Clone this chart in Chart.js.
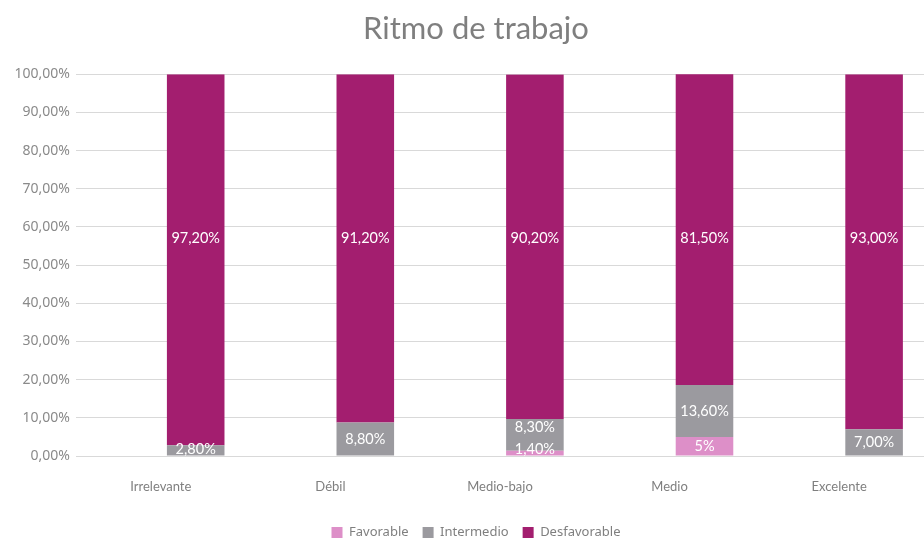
<!DOCTYPE html>
<html lang="es">
<head>
<meta charset="utf-8">
<title>Ritmo de trabajo</title>
<script src="https://cdn.jsdelivr.net/npm/chart.js@4.4.1/dist/chart.umd.min.js"></script>
<style>
  html, body { margin: 0; padding: 0; background: #fff; overflow: hidden; }
</style>
</head>
<body>
<canvas id="myChart" width="924" height="541"></canvas>
<script>
// Datos (porcentajes por categoría)
var categorias = ['Irrelevante', 'Débil', 'Medio-bajo', 'Medio', 'Excelente'];
var favorable = [0, 0, 1.4, 5, 0];
var intermedio = [2.8, 8.8, 8.3, 13.6, 7.0];
var desfavorable = [97.2, 91.2, 90.2, 81.5, 93.0];
var serieVacia = [null, null, null, null, null];

function formato(v, serie) {
    if (serie === 'Favorable' && Number.isInteger(v)) return v + '%';
    return v.toFixed(2).replace('.', ',') + '%';
}

// Etiquetas blancas dentro de las barras
var etiquetas = {
    id: 'etiquetas',
    afterLayout: function (chart) {
        // deja que los rótulos del eje Y usen el margen izquierdo
        chart.scales.y.left = 0;
    },
    afterDatasetsDraw: function (chart) {
        var ctx = chart.ctx;
        var y0 = chart.scales.y;
        var suelo = y0.getPixelForValue(0);
        var ultimo = [];
        ctx.save();
        ctx.font = '14.5px Lato';
        ctx.fillStyle = '#ffffff';
        ctx.textAlign = 'center';
        ctx.textBaseline = 'middle';
        chart.data.datasets.forEach(function (ds, i) {
            if (!ds.label) return;
            chart.getDatasetMeta(i).data.forEach(function (bar, j) {
                var v = ds.data[j];
                if (!v) return;
                var y;
                if (ds.label === 'Desfavorable') {
                    y = y0.getPixelForValue(57);
                } else {
                    y = Math.min((bar.y + bar.base) / 2, suelo - 7);
                    if (ultimo[j] !== undefined) y = Math.min(y, ultimo[j] - 22);
                    ultimo[j] = y;
                }
                ctx.fillText(formato(v, ds.label), bar.x, y);
            });
        });
        ctx.restore();
    }
};

var barra = { categoryPercentage: 0.823, barPercentage: 0.825, borderWidth: 0 };

var data = {
    labels: categorias,
    datasets: [
        Object.assign({ label: '', data: serieVacia, stack: 'hueco', backgroundColor: 'rgba(0,0,0,0)' }, barra),
        Object.assign({ label: 'Favorable', data: favorable, stack: 'ritmo', backgroundColor: '#DD8FC8' }, barra),
        Object.assign({ label: 'Intermedio', data: intermedio, stack: 'ritmo', backgroundColor: '#9B9A9F' }, barra),
        Object.assign({ label: 'Desfavorable', data: desfavorable, stack: 'ritmo', backgroundColor: '#A31E6F' }, barra)
    ]
};

var config = {
    type: 'bar',
    data: data,
    plugins: [etiquetas],
    options: {
        responsive: false,
        animation: false,
        layout: { padding: { left: 28, right: 0, top: 0, bottom: -8 } },
        plugins: {
            title: {
                display: true,
                text: 'Ritmo de trabajo',
                color: '#7f7f7f',
                font: { family: 'Lato', size: 31, weight: 'normal' },
                padding: { top: 10, bottom: 27 }
            },
            legend: {
                position: 'bottom',
                labels: {
                    boxWidth: 11,
                    boxHeight: 11,
                    padding: 14,
                    color: '#7f7f7f',
                    font: { family: 'Noto Sans', size: 13 },
                    filter: function (item) { return item.text !== ''; }
                }
            },
            tooltip: { enabled: false }
        },
        scales: {
            x: {
                stacked: true,
                grid: { display: false },
                border: { color: '#d9d9d9' },
                ticks: {
                    color: '#7f7f7f',
                    padding: 15,
                    font: { family: 'Lato', size: 13 }
                },
                afterFit: function (s) { s.height = 56; }
            },
            y: {
                stacked: true,
                min: 0,
                max: 100,
                grid: { color: '#d9d9d9', drawTicks: false },
                border: { display: false },
                ticks: {
                    stepSize: 10,
                    padding: 6,
                    color: '#8a8a8a',
                    font: { family: 'Noto Sans', size: 14 },
                    callback: function (v) { return v.toFixed(2).replace('.', ',') + '%'; }
                },
                afterFit: function (s) { s.width = 48; }
            }
        }
    }
};

var myChart = new Chart(document.getElementById('myChart').getContext('2d'), config);
</script>
</body>
</html>
